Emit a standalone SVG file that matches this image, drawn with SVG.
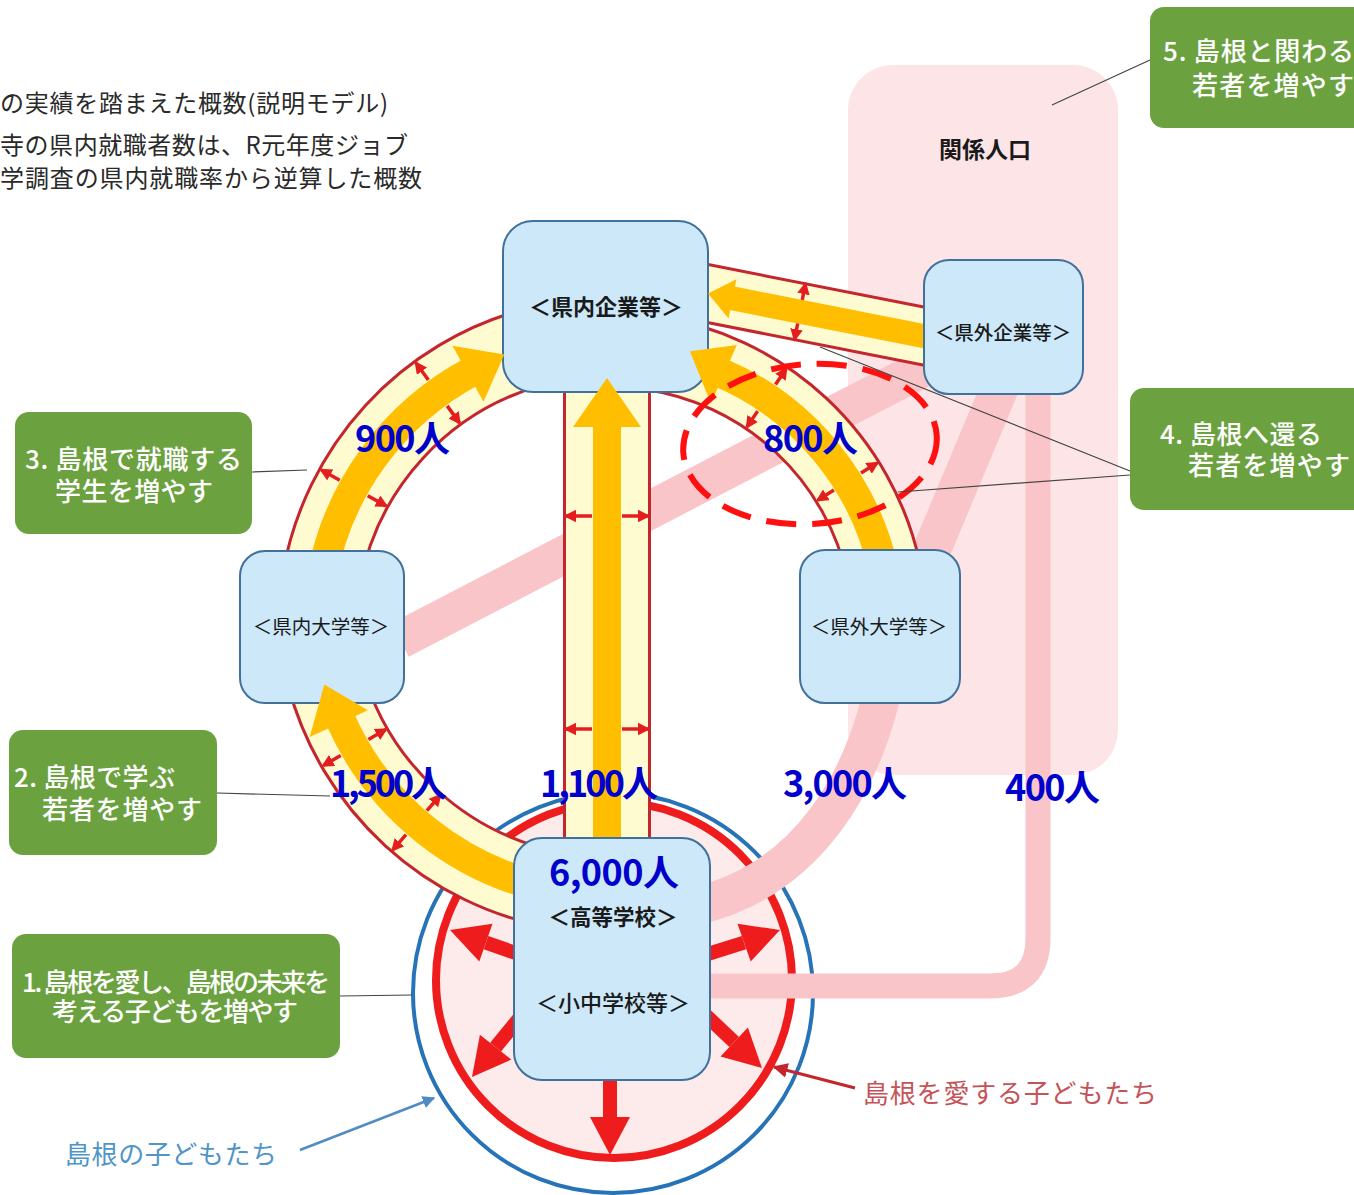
<svg xmlns="http://www.w3.org/2000/svg" width="1354" height="1195" viewBox="0 0 1354 1195">
<defs>
<style>
.box{fill:#cce8f9;stroke:#41709a;stroke-width:2}
.gbox{fill:#6ba23f}
.gt{fill:#ffffff;font-family:"Noto Sans CJK JP","Noto Sans",sans-serif;font-size:26px;font-weight:500}
.bt{fill:#1a1a1a;font-family:"Noto Sans CJK JP","Noto Sans",sans-serif;text-anchor:middle}
.num{fill:#0000cc;font-family:"Noto Sans CJK JP","Noto Sans",sans-serif;font-weight:700;font-size:36px}
.note{fill:#2a2a2a;font-family:"Noto Sans CJK JP","Noto Sans",sans-serif;font-size:24px}
.bandR{fill:none;stroke:#c4262e}
.bandY{fill:none;stroke:#fffbd1}
.shaft{fill:none;stroke:#ffbf00}
.head{fill:#ffbf00}
.sm{stroke:#e41e1e;stroke-width:3.5;fill:none;marker-end:url(#sa)}
.pink{fill:none;stroke:#f9c5c8}
.lead{stroke:#444444;stroke-width:1.2;fill:none}
.big{fill:#ee1c1c}
.bigs{stroke:#ee1c1c;stroke-width:14;fill:none}
</style>
<marker id="sa" viewBox="0 0 10 10" refX="8" refY="5" markerWidth="3.6" markerHeight="3.6" orient="auto"><path d="M0,0 L10,5 L0,10 z" fill="#e41e1e"/></marker>
<marker id="ab" viewBox="0 0 10 10" refX="9" refY="5" markerWidth="5" markerHeight="5" orient="auto"><path d="M0,0 L10,5 L0,10 z" fill="#4f8cc4"/></marker>
<marker id="ar" viewBox="0 0 10 10" refX="9" refY="5" markerWidth="5" markerHeight="5" orient="auto"><path d="M0,0 L10,5 L0,10 z" fill="#c4262e"/></marker>
</defs>

<rect width="1354" height="1195" fill="#ffffff"/>

<g id="note">
<text class="note" x="0" y="112" textLength="388">の実績を踏まえた概数(説明モデル)</text>
<text class="note" x="0" y="154" textLength="408">寺の県内就職者数は、R元年度ジョブ</text>
<text class="note" x="0" y="187" textLength="422">学調査の県内就職率から逆算した概数</text>
</g>

<g id="kankei-jinko">
<rect x="848" y="65" width="270" height="710" rx="45" fill="#fde5e7"/>
<text class="bt" x="985" y="158" font-size="23" font-weight="700">関係人口</text>
</g>

<g id="circles">
<circle cx="613" cy="993" r="200" fill="#ffffff" stroke="#2673b8" stroke-width="4"/>
<circle cx="614" cy="980" r="178" fill="#fdeaea" stroke="#ee1c1c" stroke-width="8"/>
</g>

<g id="connectors">
<path class="pink" stroke-width="38" d="M 400 640 L 935 362"/>
<path class="pink" stroke-width="38" d="M 700 905 C 800 880, 870 790, 890 650 L 1003 380"/>
<path class="pink" stroke-width="25" d="M 700 986 L 990 986 Q 1038 986 1038 938 L 1038 380"/>

<path class="bandR" stroke-width="81" d="M 321.4 579.1 A 293 293 0 0 1 534.2 347.0"/>
<path class="bandY" stroke-width="75" d="M 321.4 579.1 A 293 293 0 0 1 534.2 347.0"/>
<path class="bandR" stroke-width="77" d="M 883.9 571.8 A 280 280 0 0 0 649.0 352.7"/>
<path class="bandY" stroke-width="71" d="M 883.9 571.8 A 280 280 0 0 0 649.0 352.7"/>
<path class="bandR" stroke-width="88" d="M 607 870 L 607 370"/>
<path class="bandY" stroke-width="82" d="M 607 870 L 607 370"/>
<path class="bandR" stroke-width="79" d="M 558.8 890.5 A 295 295 0 0 1 325.0 676.4"/>
<path class="bandY" stroke-width="73" d="M 558.8 890.5 A 295 295 0 0 1 325.0 676.4"/>
<path class="bandR" stroke-width="60" d="M 690 290 L 950 341.3"/>
<path class="bandY" stroke-width="54" d="M 690 290 L 950 341.3"/>

<path class="shaft" stroke-width="30" d="M 321.4 579.1 A 293 293 0 0 1 472.4 371.3"/>
<path class="shaft" stroke-width="30" d="M 883.9 571.8 A 280 280 0 0 0 719.4 372.3"/>
<path class="shaft" stroke-width="28" d="M 607 870 L 607 425"/>
<path class="shaft" stroke-width="30" d="M 558.8 890.5 A 295 295 0 0 1 339.5 717.6"/>
<path class="shaft" stroke-width="24" d="M 950 341.3 L 731 298.1"/>

<line class="bigs" x1="530" y1="958" x2="486" y2="942.6"/>
<polygon class="big" points="450,930 492.5,923.7 479.3,961.5"/>
<line class="bigs" x1="695" y1="958" x2="744" y2="942.6"/>
<polygon class="big" points="780,930 750.7,961.5 737.5,923.7"/>
<line class="bigs" x1="530" y1="1005" x2="495.6" y2="1047.2"/>
<polygon class="big" points="472,1077 511.3,1059.6 479.9,1034.8"/>
<line class="bigs" x1="695" y1="1005" x2="734.2" y2="1042"/>
<polygon class="big" points="762,1068 720.5,1056.6 747.9,1027.4"/>
<line class="bigs" x1="610" y1="1070" x2="610" y2="1118"/>
<polygon class="big" points="610,1155 590,1117 630,1117"/>
</g>

<g id="node-kennai-kigyo">
<rect class="box" x="503" y="221" width="205" height="171" rx="30"/>
<text class="bt" x="606" y="315" font-size="22" font-weight="700">＜県内企業等＞</text>
</g>
<g id="node-kengai-kigyo">
<rect class="box" x="924" y="260" width="159" height="134" rx="25"/>
<text class="bt" x="1003" y="340" font-size="19.5" font-weight="500">＜県外企業等＞</text>
</g>
<g id="node-kennai-daigaku">
<rect class="box" x="240" y="551" width="164" height="152" rx="25"/>
<text class="bt" x="321" y="634" font-size="19.5">＜県内大学等＞</text>
</g>
<g id="node-kengai-daigaku">
<rect class="box" x="800" y="550" width="160" height="153" rx="25"/>
<text class="bt" x="879" y="634" font-size="19.5">＜県外大学等＞</text>
</g>
<g id="node-school">
<rect class="box" x="514" y="838" width="196" height="242" rx="28"/>
<text x="614" y="886" text-anchor="middle" class="num" font-size="35" textLength="130">6,000人</text>
<text class="bt" x="613" y="925" font-size="21.5" font-weight="700">＜高等学校＞</text>
<text class="bt" x="613" y="1011" font-size="22" font-weight="500">＜小中学校等＞</text>
</g>

<g id="heads">
<polygon class="head" points="452.4,345.8 504.3,354.6 483.5,401.7"/>
<polygon class="head" points="736.9,345.0 689.9,351.2 710.9,403.5"/>
<polygon class="head" points="573,427 641,427 607,378"/>
<polygon class="head" points="309.7,736.9 324.3,684.6 367.9,710.3"/>
<polygon class="head" points="736.4,279.2 708,293.6 728.6,318.4"/>
</g>

<g id="small-arrows">
<line class="sm" x1="428.4" y1="380.0" x2="416.0" y2="363.0"/>
<line class="sm" x1="447.2" y1="405.9" x2="459.5" y2="422.9"/>
<line class="sm" x1="339.7" y1="480.2" x2="321.4" y2="470.0"/>
<line class="sm" x1="367.7" y1="495.7" x2="386.1" y2="505.9"/>
<line class="sm" x1="775.5" y1="384.6" x2="786.1" y2="368.9"/>
<line class="sm" x1="757.6" y1="411.1" x2="747.0" y2="426.9"/>
<line class="sm" x1="861.0" y1="473.1" x2="877.1" y2="463.1"/>
<line class="sm" x1="833.9" y1="490.1" x2="817.8" y2="500.2"/>
<line class="sm" x1="592" y1="516" x2="566" y2="516"/>
<line class="sm" x1="622" y1="516" x2="648" y2="516"/>
<line class="sm" x1="592" y1="729" x2="566" y2="729"/>
<line class="sm" x1="622" y1="729" x2="648" y2="729"/>
<line class="sm" x1="340.7" y1="755.5" x2="323.4" y2="765.5"/>
<line class="sm" x1="368.4" y1="739.5" x2="385.7" y2="729.5"/>
<line class="sm" x1="406.0" y1="834.7" x2="392.8" y2="849.8"/>
<line class="sm" x1="426.9" y1="810.6" x2="440.1" y2="795.5"/>
<line class="sm" x1="802.3" y1="299.9" x2="805.4" y2="284.2"/>
<line class="sm" x1="797.7" y1="323.5" x2="794.6" y2="339.2"/>
</g>

<g id="numbers">
<text class="num" x="355" y="452" textLength="95">900人</text>
<text class="num" x="763" y="452" textLength="95">800人</text>
<text class="num" x="330" y="797" textLength="117">1,500人</text>
<text class="num" x="540" y="797" textLength="118">1,100人</text>
<text class="num" x="783" y="797" textLength="124">3,000人</text>
<text class="num" x="1005" y="801" textLength="95">400人</text>
</g>

<ellipse id="highlight" cx="810" cy="444" rx="127" ry="80" transform="rotate(-4 810 444)" fill="none" stroke="#ff1010" stroke-width="6" stroke-dasharray="30 16"/>

<g id="leaders">
<line class="lead" x1="252" y1="472" x2="307" y2="470"/>
<line class="lead" x1="217" y1="793" x2="330" y2="796"/>
<line class="lead" x1="340" y1="996" x2="412" y2="995"/>
<line class="lead" x1="1150" y1="60" x2="1052" y2="105"/>
<line class="lead" x1="1130" y1="471" x2="820" y2="347"/>
<line class="lead" x1="1130" y1="475" x2="898" y2="492"/>
</g>

<g id="goal-5">
<rect class="gbox" x="1150" y="7" width="220" height="121" rx="14"/>
<text class="gt" x="1163" y="61" textLength="191">5. 島根と関わる</text>
<text class="gt" x="1192" y="95" textLength="162">若者を増やす</text>
</g>
<g id="goal-4">
<rect class="gbox" x="1130" y="388" width="240" height="122" rx="14"/>
<text class="gt" x="1160" y="444" textLength="162">4. 島根へ還る</text>
<text class="gt" x="1188" y="475" textLength="162">若者を増やす</text>
</g>
<g id="goal-3">
<rect class="gbox" x="15" y="412" width="237" height="122" rx="14"/>
<text class="gt" x="25" y="469" textLength="217">3. 島根で就職する</text>
<text class="gt" x="55" y="501" textLength="158">学生を増やす</text>
</g>
<g id="goal-2">
<rect class="gbox" x="9" y="730" width="208" height="125" rx="14"/>
<text class="gt" x="14" y="787" textLength="161">2. 島根で学ぶ</text>
<text class="gt" x="42" y="819" textLength="160">若者を増やす</text>
</g>
<g id="goal-1">
<rect class="gbox" x="12" y="934" width="328" height="124" rx="14"/>
<text class="gt" x="22" y="992" font-size="24" textLength="308">1. 島根を愛し、島根の未来を</text>
<text class="gt" x="52" y="1021" font-size="24" textLength="246">考える子どもを増やす</text>
</g>

<g id="labels">
<line x1="300" y1="1150" x2="434" y2="1098" stroke="#4f8cc4" stroke-width="2.5" marker-end="url(#ab)"/>
<text x="65" y="1164" font-family="Noto Sans CJK JP, sans-serif" font-size="26" fill="#4f95c8" textLength="212">島根の子どもたち</text>
<line x1="855" y1="1088" x2="774" y2="1067" stroke="#c4262e" stroke-width="3" marker-end="url(#ar)"/>
<text x="863" y="1103" font-family="Noto Sans CJK JP, sans-serif" font-size="26" fill="#c4545a" textLength="294">島根を愛する子どもたち</text>
</g>
</svg>
